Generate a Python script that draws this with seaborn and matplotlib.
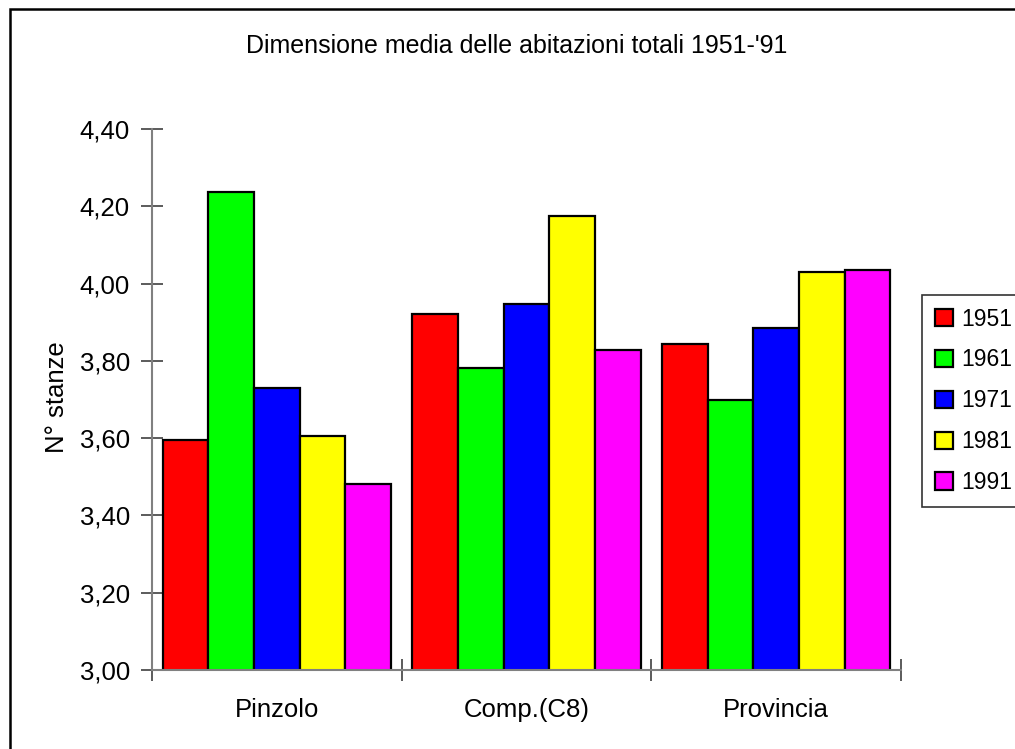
import matplotlib
matplotlib.use("Agg")
import matplotlib.pyplot as plt
from matplotlib.patches import Rectangle
import seaborn as sns
import pandas as pd

# Average number of rooms per dwelling, by area and census year
areas = ["Pinzolo", "Comp.(C8)", "Provincia"]
years = ["1951", "1961", "1971", "1981", "1991"]
rooms_1951 = [3.595, 3.921, 3.843]
rooms_1961 = [4.237, 3.781, 3.698]
rooms_1971 = [3.731, 3.947, 3.885]
rooms_1981 = [3.606, 4.175, 4.030]
rooms_1991 = [3.481, 3.828, 4.035]
y_ticks = [3.00, 3.20, 3.40, 3.60, 3.80, 4.00, 4.20, 4.40]
y_tick_labels = ["3,00", "3,20", "3,40", "3,60", "3,80", "4,00", "4,20", "4,40"]

series = [rooms_1951, rooms_1961, rooms_1971, rooms_1981, rooms_1991]
rows = []
for year, vals in zip(years, series):
    for area, v in zip(areas, vals):
        rows.append({"area": area, "anno": year, "stanze": v})
df = pd.DataFrame(rows)

palette = {"1951": "#FF0000", "1961": "#00FF00", "1971": "#0000FF",
           "1981": "#FFFF00", "1991": "#FF00FF"}

sns.set_style("white")
plt.rcParams["font.family"] = ["Liberation Sans", "DejaVu Sans"]
plt.rcParams["text.color"] = "black"

W, H = 1015, 749
fig = plt.figure(figsize=(W / 100, H / 100), dpi=100)
fig.patch.set_facecolor("white")

left, right, top, bottom = 152, 901, 129, 670
ax = fig.add_axes([left / W, 1 - bottom / H, (right - left) / W, (bottom - top) / H])

sns.barplot(data=df, x="area", y="stanze", hue="anno", order=areas,
            hue_order=years, palette=palette, width=0.915, gap=0,
            edgecolor="black", linewidth=1.6, saturation=1, ax=ax,
            legend=True)

ax.set_ylim(3.0, 4.4)
ax.set_xlim(-0.5, 2.5)
ax.set_yticks(y_ticks)
ax.set_yticklabels(y_tick_labels)
ax.set_xlabel("")
ax.set_ylabel("")

# group separators as major ticks, category names on minor ticks
ax.set_xticks([-0.5, 0.5, 1.5, 2.5])
ax.set_xticklabels([])
ax.set_xticks([0, 1, 2], minor=True)
ax.set_xticklabels(areas, minor=True)
ax.tick_params(axis="x", which="major", bottom=True, direction="inout",
               length=16, width=1.2, color="#404040")
ax.tick_params(axis="x", which="minor", bottom=False, length=0, pad=20,
               labelsize=18.5, labelcolor="black")
ax.tick_params(axis="y", left=True, direction="inout", length=16, width=1.2,
               color="#404040", pad=8, labelsize=18.5, labelcolor="black")

for s in ["top", "right"]:
    ax.spines[s].set_visible(False)
for s in ["left", "bottom"]:
    ax.spines[s].set_color("#808080")
    ax.spines[s].set_linewidth(1.5)

fig.text(517 / W, 1 - 46 / H, "Dimensione media delle abitazioni totali 1951-'91",
         ha="center", va="center", fontsize=18, color="black")
fig.text(57 / W, 1 - 397 / H, "N° stanze", rotation=90, ha="center",
         va="center", fontsize=18.5, color="black")

handles, labels = ax.get_legend_handles_labels()
ax.get_legend().remove()
leg = fig.legend(handles, labels, loc="upper left",
                 bbox_to_anchor=(922 / W, 1 - 295 / H),
                 bbox_transform=fig.transFigure, frameon=True, fancybox=False,
                 fontsize=16.5, handlelength=0.8, handleheight=0.8,
                 handletextpad=0.35, labelspacing=0.78, borderpad=0.55,
                 borderaxespad=0)
leg.get_frame().set_edgecolor("black")
leg.get_frame().set_linewidth(1.2)
for t in leg.get_texts():
    t.set_color("black")

# outer chart frame
fig.patches.append(Rectangle((9.5 / W, -0.1), 1.2, 1.1 - 9.5 / H,
                             transform=fig.transFigure, fill=False,
                             edgecolor="black", linewidth=1.8, zorder=0))

fig.savefig("out.png", dpi=100)
